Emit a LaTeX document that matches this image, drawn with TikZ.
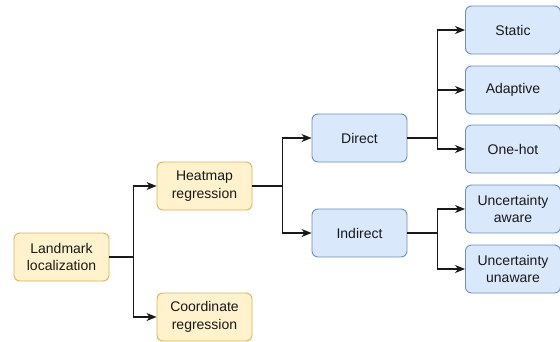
\documentclass[tikz,border=0pt]{standalone}
\usepackage{fontspec}
\setmainfont{Liberation Sans}
\usetikzlibrary{arrows.meta}
\begin{document}
\begin{tikzpicture}[x=1pt,y=-1pt,
  box/.style={rounded corners=6pt, line width=0.9pt, minimum width=95pt, minimum height=48pt,
    align=center, inner sep=1pt, font=\fontsize{14}{17.3}\selectfont, text=black!90},
  yel/.style={box, fill=yellowfill, draw=yellowline},
  blu/.style={box, fill=bluefill, draw=blueline},
  arr/.style={line width=1.1pt, draw=black!90, -{Stealth[length=10pt,width=8pt,inset=3pt]}}]
\definecolor{yellowfill}{HTML}{FFF2CC}
\definecolor{yellowline}{HTML}{D6B656}
\definecolor{bluefill}{HTML}{DAE8FC}
\definecolor{blueline}{HTML}{6C8EBF}
\useasboundingbox (0,0) rectangle (560,341);

% root and first level
\node[yel] (lm) at (61.5,257) {Landmark\\localization};
\node[yel] (hm) at (204.5,186) {Heatmap\\regression};
\node[yel] (cr) at (204.5,317) {Coordinate\\regression};

% heatmap branches
\node[blu] (di) at (359.5,138) {Direct};
\node[blu] (in) at (359.5,233) {Indirect};

% leaves
\node[blu] (st) at (513,30) {Static};
\node[blu] (ad) at (513,90) {Adaptive};
\node[blu] (oh) at (513,149) {One-hot};
\node[blu] (ua) at (513,209) {Uncertainty\\aware};
\node[blu] (uu) at (513,269) {Uncertainty\\unaware};

% connectors
\draw[arr] (lm.east) -- ++(24,0) |- (hm.west);
\draw[arr] (lm.east) -- ++(24,0) |- (cr.west);
\draw[arr] (hm.east) -- ++(30,0) |- (di.west);
\draw[arr] (hm.east) -- ++(30,0) |- (in.west);
\draw[arr] (di.east) -- ++(30,0) |- (st.west);
\draw[arr] (di.east) -- ++(30,0) |- (ad.west);
\draw[arr] (di.east) -- ++(30,0) |- (oh.west);
\draw[arr] (in.east) -- ++(30,0) |- (ua.west);
\draw[arr] (in.east) -- ++(30,0) |- (uu.west);
\end{tikzpicture}
\end{document}
